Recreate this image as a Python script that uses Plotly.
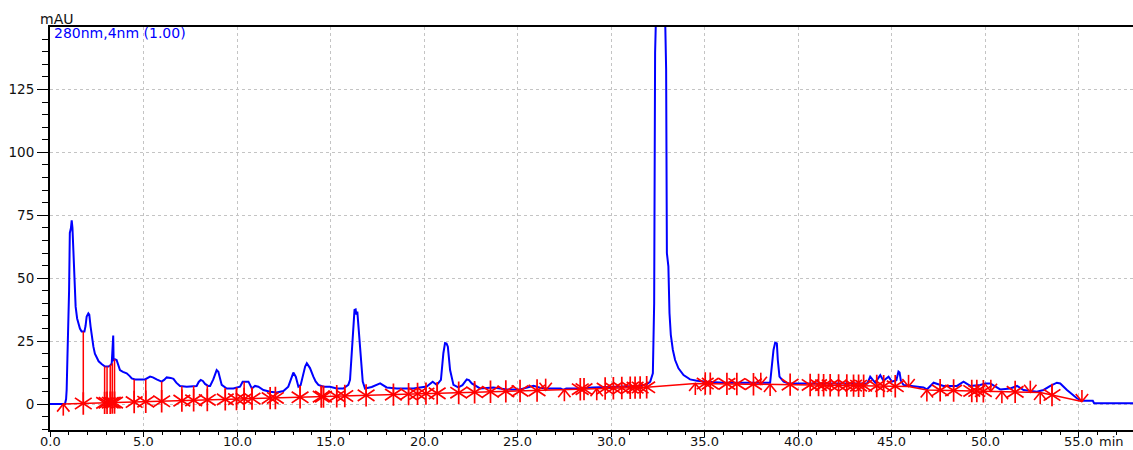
import plotly.graph_objects as go

# Chromatogram at 280 nm: retention time (min) and absorbance (mAU)
time_min = [
    0.0, 0.80, 0.86, 0.89, 0.93, 0.98, 1.02, 1.06, 1.12, 1.16, 1.20, 1.25, 1.30, 1.37,
    1.45, 1.52, 1.60, 1.69, 1.84, 1.90, 1.96, 2.05, 2.10, 2.17, 2.25, 2.32, 2.40, 2.50,
    2.60, 2.76, 2.94, 3.12, 3.25, 3.30, 3.35, 3.38, 3.40, 3.48, 3.56, 3.62, 3.74, 3.90,
    4.10, 4.25, 4.37, 4.55, 5.08, 5.35, 5.50, 5.70, 5.97, 6.10, 6.24, 6.45, 6.60, 6.75,
    6.95, 7.31, 7.58, 7.84, 7.95, 8.06, 8.17, 8.29, 8.45, 8.56, 8.73, 8.85, 8.91, 9.00,
    9.10, 9.18, 9.45, 9.80, 10.16, 10.30, 10.61, 10.72, 10.79, 10.96, 11.14, 11.41, 11.76,
    12.12, 12.48, 12.74, 12.92, 13.01, 13.14, 13.28, 13.40, 13.46, 13.55, 13.64, 13.73,
    13.90, 14.08, 14.20, 14.35, 14.62, 14.97, 15.33, 15.68, 15.95, 16.04, 16.13, 16.22,
    16.28, 16.34, 16.38, 16.43, 16.52, 16.61, 16.72, 16.84, 17.20, 17.65, 18.00, 18.54,
    19.43, 20.14, 20.30, 20.46, 20.68, 20.90, 21.03, 21.12, 21.20, 21.27, 21.39, 21.57,
    21.83, 22.05, 22.28, 22.40, 22.55, 22.99, 23.71, 24.42, 25.13, 25.50, 25.85, 26.20,
    26.56, 27.30, 27.45, 27.60, 28.34, 29.00, 30.00, 31.50, 31.90, 32.09, 32.23, 32.26,
    32.30, 32.35, 32.42, 32.65, 32.87, 32.94, 32.98, 33.06, 33.12, 33.19, 33.30, 33.42,
    33.60, 33.87, 34.22, 34.58, 35.12, 36.00, 38.50, 38.59, 38.68, 38.77, 38.86, 38.91,
    39.00, 39.22, 39.50, 43.70, 43.85, 44.00, 44.12, 44.30, 44.39, 44.56, 44.83, 45.01,
    45.25, 45.36, 45.42, 45.49, 45.63, 46.70, 46.88, 47.24, 47.50, 47.77, 48.49, 48.84,
    49.20, 49.73, 50.00, 50.27, 50.80, 51.34, 51.70, 52.05, 52.76, 53.12, 53.48, 53.83,
    54.01, 54.37, 54.90, 55.17, 55.75, 55.82, 57.90,
]
signal_mau = [
    0.0, 0.0, 2.0, 5.6, 18.0, 29.5, 45.0, 68.0, 70.0, 73.0, 70.0, 61.0, 48.0, 38.7,
    34.0, 32.0, 30.0, 28.8, 28.8, 31.0, 34.8, 36.0, 35.5, 30.8, 26.0, 22.8, 20.0, 18.3,
    17.0, 15.9, 14.9, 14.9, 15.5, 16.2, 27.2, 27.2, 17.5, 17.8, 17.5, 16.2, 13.5, 12.8,
    12.2, 11.2, 10.2, 9.8, 9.8, 10.9, 10.6, 9.8, 8.9, 9.6, 10.6, 10.4, 10.0, 8.5,
    7.2, 6.9, 7.2, 7.2, 8.8, 9.6, 9.2, 8.0, 7.2, 7.2, 9.8, 13.0, 13.5, 12.8,
    10.0, 7.6, 6.2, 6.2, 6.9, 8.9, 8.9, 7.0, 6.2, 7.2, 6.9, 5.6, 4.9,
    4.6, 5.2, 6.9, 10.9, 12.5, 10.9, 6.9, 7.5, 9.6, 12.5, 14.9, 16.2,
    14.3, 10.9, 9.0, 7.6, 6.9, 6.9, 6.2, 6.2, 7.6, 9.6, 21.5, 32.1,
    37.4, 37.6, 35.5, 36.7, 26.8, 17.5, 8.9, 6.2, 6.8, 8.2, 6.6, 6.2,
    6.2, 7.0, 8.0, 8.9, 7.6, 9.6, 20.2, 24.2, 24.0, 22.8, 13.5, 7.6,
    6.6, 7.5, 9.8, 9.5, 8.2, 6.2, 6.6, 5.8, 5.8, 6.5, 7.3, 6.5,
    6.2, 6.2, 5.6, 6.2, 6.2, 6.6, 6.9, 7.2, 7.8, 8.9, 12.2, 36.1,
    40.0, 139.6, 160.0, 230.0, 160.0, 133.0, 60.0, 54.7, 36.1, 27.5, 21.5, 17.5,
    14.2, 11.5, 9.8, 9.3, 8.9, 8.5, 8.5, 16.2, 21.5, 24.4, 24.1, 17.5,
    10.9, 8.9, 8.2, 8.2, 10.9, 9.5, 8.5, 10.5, 11.5, 9.3, 10.9, 8.9,
    9.5, 12.9, 12.5, 9.3, 7.6, 6.6, 5.8, 8.5, 7.8, 7.2, 7.2, 8.9,
    7.2, 7.6, 8.2, 8.2, 5.8, 6.2, 7.2, 5.6, 4.9, 5.6, 7.2, 8.5,
    8.2, 5.6, 2.3, 1.3, 1.3, 0.3, 0.3,
]

# Integration marks: peak starts, peak tops (asterisks) and peak ends, on the baseline
start_t = [0.71, 27.50, 29.23, 34.50, 38.50, 46.88, 50.89, 52.94]
start_base = [0.0, 5.72, 6.09, 8.20, 7.82, 5.60, 4.95, 4.60]

end_t = [26.50, 38.00, 45.90, 50.30, 52.41, 55.17]
end_base = [5.50, 7.87, 7.00, 5.05, 4.70, 1.00]

apex_t = [
    1.78, 2.92, 3.05, 3.22, 3.33, 3.45, 4.50, 5.12, 5.97, 7.05, 7.68, 8.41, 9.37, 9.97,
    10.38, 10.80, 11.77, 12.05, 13.37, 14.50, 14.62, 15.33, 15.76, 16.90, 18.36, 19.17,
    19.65, 20.10, 20.70, 21.85, 22.70, 23.55, 24.37, 25.13, 26.04, 28.35, 28.55, 29.68,
    30.12, 30.57, 31.02, 31.28, 31.55, 31.90, 35.03, 35.30, 36.19, 36.72, 37.61, 39.57,
    40.64, 41.09, 41.36, 41.71, 42.16, 42.60, 42.96, 43.23, 43.50, 44.20, 44.57, 45.19,
    47.59, 48.31, 49.28, 49.55, 49.90, 51.60, 53.57,
]
apex_base = [
    0.23, 0.47, 0.50, 0.54, 0.56, 0.58, 0.81, 0.94, 1.12, 1.35, 1.49, 1.64, 1.85, 1.98,
    2.06, 2.15, 2.36, 2.42, 2.70, 2.94, 2.97, 3.12, 3.21, 3.46, 3.77, 3.94,
    4.04, 4.14, 4.27, 4.51, 4.69, 4.87, 5.05, 5.21, 5.41, 5.90, 5.94, 6.18,
    6.28, 6.37, 6.47, 6.52, 6.58, 6.66, 8.15, 8.12, 8.04, 7.99, 7.90, 7.73,
    7.60, 7.55, 7.50, 7.46, 7.41, 7.36, 7.32, 7.29, 7.26, 7.18, 7.14, 7.07,
    5.48, 5.37, 5.21, 5.17, 5.11, 4.83, 3.60,
]
# chromatogram height where each peak-top drop line meets the trace
apex_signal = [
    28.8, 14.9, 14.9, 15.6, 16.2, 17.8, 9.8, 9.8, 8.9, 7.1, 7.2, 7.4, 6.2, 6.6,
    8.9, 6.5, 4.9, 4.7, 7.3, 7.2, 6.9, 6.2, 6.2, 6.5, 6.3, 6.2,
    6.4, 7.0, 7.8, 6.6, 8.6, 6.4, 5.9, 5.8, 7.0, 6.2, 6.3, 6.8,
    6.9, 7.0, 7.1, 7.2, 7.2, 7.7, 8.9, 8.8, 8.5, 8.5, 8.5, 8.3,
    8.2, 8.2, 8.2, 8.2, 8.2, 8.2, 8.2, 8.2, 8.2, 10.3, 9.6, 9.3,
    7.8, 7.2, 7.3, 7.5, 7.7, 7.1, 7.4,
]

x_tickvals = [0, 5, 10, 15, 20, 25, 30, 35, 40, 45, 50, 55]
x_ticktext = ["0.0", "5.0", "10.0", "15.0", "20.0", "25.0", "30.0", "35.0",
              "40.0", "45.0", "50.0", "55.0"]
y_tickvals = [0, 25, 50, 75, 100, 125]

BLUE = "#0000ff"
RED = "#ff0000"
INK = "#111111"
FONT = "DejaVu Sans"

# arrow glyph geometry for start / end marks (min, mAU)
ARM_DX = 0.33
ARM_DY = 3.0
STEM_DY = 4.6


def arrow_glyphs(ts, bs, direction):
    xs, ys = [], []
    for t, b in zip(ts, bs):
        arm = b + direction * ARM_DY
        stem = b + direction * STEM_DY
        xs += [t - ARM_DX, t, t + ARM_DX, None, t, t, None]
        ys += [arm, b, arm, None, b, stem, None]
    return xs, ys


# baseline polyline through every mark in time order
marks = sorted(zip(start_t + apex_t + end_t, start_base + apex_base + end_base))
base_x = [m[0] for m in marks]
base_y = [m[1] for m in marks]

# drop lines from each peak top down to the baseline
drop_x, drop_y = [], []
for t, b, s in zip(apex_t, apex_base, apex_signal):
    drop_x += [t, t, None]
    drop_y += [b, s, None]

sx, sy = arrow_glyphs(start_t, start_base, -1)
ex, ey = arrow_glyphs(end_t, end_base, +1)

fig = go.Figure()
fig.add_trace(go.Scatter(x=time_min, y=signal_mau, mode="lines",
                         line=dict(color=BLUE, width=2)))
fig.add_trace(go.Scatter(x=base_x, y=base_y, mode="lines",
                         line=dict(color=RED, width=1.5)))
fig.add_trace(go.Scatter(x=drop_x, y=drop_y, mode="lines",
                         line=dict(color=RED, width=1.5)))
for sym in ("y-up-open", "y-down-open"):
    fig.add_trace(go.Scatter(
        x=apex_t, y=apex_base, mode="markers",
        marker=dict(symbol=sym, size=14, color=RED,
                    line=dict(color=RED, width=1.7))))
fig.add_trace(go.Scatter(x=sx, y=sy, mode="lines", line=dict(color=RED, width=1.6)))
fig.add_trace(go.Scatter(x=ex, y=ey, mode="lines", line=dict(color=RED, width=1.6)))

# time-axis labels set just under the axis line
LABEL_Y = -0.0295
annotations = [
    dict(text=txt, xref="x", yref="paper", x=val, y=LABEL_Y,
         xanchor="center", yanchor="middle", showarrow=False, borderpad=0,
         font=dict(family=FONT, size=13, color=INK))
    for val, txt in zip(x_tickvals, x_ticktext)
]
annotations += [
    dict(text="mAU", xref="paper", yref="paper", x=-0.011, y=1.021,
         xanchor="left", yanchor="middle", showarrow=False,
         font=dict(family=FONT, size=14, color=INK)),
    dict(text="280nm,4nm (1.00)", xref="paper", yref="paper", x=0.002, y=0.984,
         xanchor="left", yanchor="middle", showarrow=False,
         font=dict(family=FONT, size=14, color=BLUE)),
    dict(text="min", xref="paper", yref="paper", x=0.968, y=LABEL_Y,
         xanchor="left", yanchor="middle", showarrow=False, borderpad=0,
         font=dict(family=FONT, size=13, color=INK)),
]

fig.update_layout(
    width=1133, height=450, autosize=False,
    margin=dict(l=50, r=0, t=27, b=20, autoexpand=False),
    paper_bgcolor="white", plot_bgcolor="white",
    showlegend=False,
    font=dict(family=FONT, size=13.5, color=INK),
    annotations=annotations,
)
fig.update_xaxes(
    range=[0, 57.9], tickmode="array", tickvals=x_tickvals, showticklabels=False,
    automargin=False,
    showline=True, linecolor="black", linewidth=2, mirror=True,
    ticks="outside", ticklen=5, tickwidth=1, tickcolor="black",
    minor=dict(dtick=1, tick0=0, ticks="outside", ticklen=3, tickcolor="black",
               showgrid=False),
    showgrid=True, gridcolor="#c4c4c4", griddash="dot", gridwidth=1,
    zeroline=False,
)
fig.update_yaxes(
    range=[-10.3, 149.8], tickmode="array", tickvals=y_tickvals,
    automargin=False,
    showline=True, linecolor="black", linewidth=2,
    ticks="outside", ticklen=11, tickwidth=1, tickcolor="black",
    minor=dict(dtick=5, tick0=0, tickmode="linear", ticks="outside", ticklen=6,
               tickcolor="black", showgrid=False),
    showgrid=True, gridcolor="#c4c4c4", griddash="dot", gridwidth=1,
    zeroline=False,
)

fig.write_html("out.html")
